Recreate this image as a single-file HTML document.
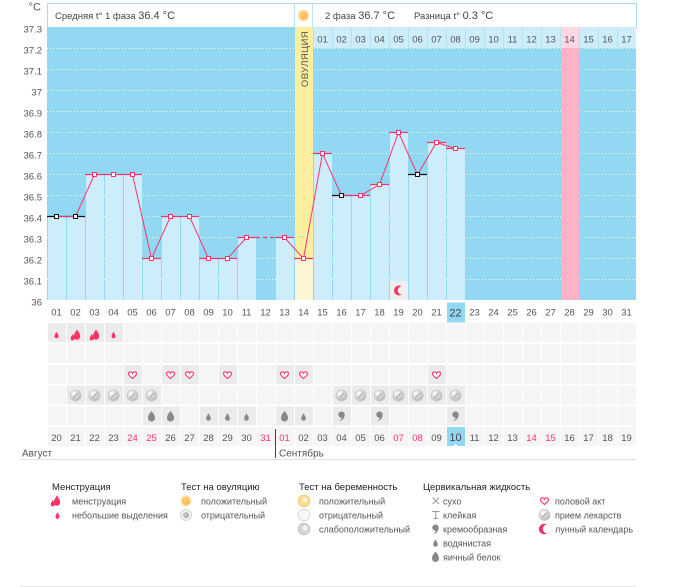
<!DOCTYPE html>
<html><head><meta charset="utf-8"><style>
html,body{margin:0;padding:0;background:#fff;}
svg{display:block;font-family:"Liberation Sans","DejaVu Sans",sans-serif;}
</style></head><body>
<svg width="675" height="587" viewBox="0 0 675 587" xmlns="http://www.w3.org/2000/svg">
<defs>
 <pattern id="cp" x="47" y="0" width="19" height="600" patternUnits="userSpaceOnUse"><rect x="1" y="0" width="18" height="600" fill="#f5f5f5"/></pattern>
 <pattern id="hp" x="47" y="0" width="19" height="600" patternUnits="userSpaceOnUse"><rect x="1" y="0" width="18" height="600" fill="#cdedfb"/></pattern>
 <radialGradient id="pillg" cx="0.35" cy="0.3" r="0.8"><stop offset="0" stop-color="#ffffff"/><stop offset="1" stop-color="#b0b0b0"/></radialGradient>
 <radialGradient id="sung" cx="0.4" cy="0.4" r="0.7"><stop offset="0" stop-color="#ffd27a"/><stop offset="1" stop-color="#f9ad35"/></radialGradient>
 <radialGradient id="grayg" cx="0.4" cy="0.4" r="0.7"><stop offset="0" stop-color="#dddddd"/><stop offset="1" stop-color="#8a8a8a"/></radialGradient>
 <path id="drop" d="M0,-4 C1,-2 2.5,-0.5 2.5,1.5 A2.5,2.5 0 0 1 -2.5,1.5 C-2.5,-0.5 -1,-2 0,-4Z"/>
 <path id="egg" d="M0,-5.5 C1.5,-3.5 3.5,-1.5 3.5,1.5 A3.5,3.5 0 0 1 -3.5,1.5 C-3.5,-1.5 -1.5,-3.5 0,-5.5Z" fill="#888"/>
 <use id="water" href="#drop" fill="#888" transform="scale(0.95)"/>
 <path id="cream" d="M-3.2,-1.5 A3.2,3.2 0 1 1 3.2,-1.2 C3.2,2 1,4.5 -2.5,5 C-0.5,3.5 0.2,2.5 0.2,1.7 A3.2,3.2 0 0 1 -3.2,-1.5Z" fill="#888"/>
 <g id="menb"><use href="#drop" fill="#ff3366" transform="translate(-2.8,2.2) scale(0.8)"/><use href="#drop" fill="#ff3366" transform="translate(1.5,-0.5) scale(1.3)"/></g>
 <use id="mens" href="#drop" fill="#ff3366" transform="scale(0.8)"/>
 <path id="heart" d="M0,3.5 C-1,2.5 -4,0.5 -4,-1.3 C-4,-3.5 -1,-4 0,-1.6 C1,-4 4,-3.5 4,-1.3 C4,0.5 1,2.5 0,3.5Z" fill="#fff" stroke="#ff3d7a" stroke-width="1.2" stroke-linejoin="round"/>
 <g id="pill"><circle r="5.5" fill="url(#pillg)" stroke="#c4c4c4" stroke-width="0.8"/><line x1="-2.6" y1="2.6" x2="2.6" y2="-2.6" stroke="#a5a5a5" stroke-width="1"/></g>
</defs>

<!-- y axis labels -->
<g font-size="9.5" fill="#555" text-anchor="end">
 <text x="41" y="10.5" font-size="11">°C</text>
 <text x="42" y="32.4">37.3</text>
 <text x="42" y="53.4">37.2</text>
 <text x="42" y="74.4">37.1</text>
 <text x="42" y="95.4">37</text>
 <text x="42" y="116.4">36.9</text>
 <text x="42" y="137.4">36.8</text>
 <text x="42" y="158.4">36.7</text>
 <text x="42" y="179.4">36.6</text>
 <text x="42" y="200.4">36.5</text>
 <text x="42" y="221.4">36.4</text>
 <text x="42" y="242.4">36.3</text>
 <text x="42" y="263.4">36.2</text>
 <text x="42" y="284.4">36.1</text>
 <text x="42" y="305.4">36</text>
</g>

<!-- header box -->
<rect x="47.5" y="3.5" width="589" height="24" fill="#fff" stroke="#a4dbf1"/>
<line x1="294.5" y1="3.5" x2="294.5" y2="27" stroke="#b8e4f5"/>
<line x1="312.5" y1="3.5" x2="312.5" y2="27" stroke="#b8e4f5"/>
<text x="55" y="19" font-size="9.5" fill="#444">Средняя t° 1 фаза <tspan font-size="11">36.4 °C</tspan></text>
<text x="325" y="19" font-size="9.5" fill="#444">2 фаза <tspan font-size="11">36.7 °C</tspan></text>
<text x="414" y="19" font-size="9.5" fill="#444">Разница t° <tspan font-size="11">0.3 °C</tspan></text>
<circle cx="303.5" cy="15.5" r="6" fill="#fde4ad"/>
<circle cx="303.5" cy="15.5" r="4" fill="url(#sung)"/>

<!-- plot background -->
<rect x="47" y="27" width="589" height="273" fill="#93d8f2"/>
<g stroke="#fff" stroke-width="1" stroke-dasharray="1,2" opacity="0.9">
 <line x1="47" y1="48.5" x2="636" y2="48.5"/>
 <line x1="47" y1="69.5" x2="636" y2="69.5"/>
 <line x1="47" y1="90.5" x2="636" y2="90.5"/>
 <line x1="47" y1="111.5" x2="636" y2="111.5"/>
 <line x1="47" y1="132.5" x2="636" y2="132.5"/>
 <line x1="47" y1="153.5" x2="636" y2="153.5"/>
 <line x1="47" y1="174.5" x2="636" y2="174.5"/>
 <line x1="47" y1="195.5" x2="636" y2="195.5"/>
 <line x1="47" y1="216.5" x2="636" y2="216.5"/>
 <line x1="47" y1="237.5" x2="636" y2="237.5"/>
 <line x1="47" y1="258.5" x2="636" y2="258.5"/>
 <line x1="47" y1="279.5" x2="636" y2="279.5"/>
</g>

<!-- bars -->
<g fill="#cdedfb">
 <rect x="48" y="216" width="18" height="84"/>
 <rect x="67" y="216" width="18" height="84"/>
 <rect x="86" y="174" width="18" height="126"/>
 <rect x="105" y="174" width="18" height="126"/>
 <rect x="124" y="174" width="18" height="126"/>
 <rect x="143" y="258" width="18" height="42"/>
 <rect x="162" y="216" width="18" height="84"/>
 <rect x="181" y="216" width="18" height="84"/>
 <rect x="200" y="258" width="18" height="42"/>
 <rect x="219" y="258" width="18" height="42"/>
 <rect x="238" y="237" width="18" height="63"/>
 <rect x="276" y="237" width="18" height="63"/>
 <rect x="314" y="153" width="18" height="147"/>
 <rect x="333" y="195" width="18" height="105"/>
 <rect x="352" y="195" width="18" height="105"/>
 <rect x="371" y="184" width="18" height="116"/>
 <rect x="390" y="132" width="18" height="168"/>
 <rect x="409" y="174" width="18" height="126"/>
 <rect x="428" y="142" width="18" height="158"/>
 <rect x="447" y="148" width="18" height="152"/>
</g>
<!-- ovulation column -->
<rect x="295" y="27" width="18" height="231" fill="#fcee9e"/>
<rect x="295" y="258" width="18" height="42" fill="#fdf6d2"/>
<text transform="translate(308,59) rotate(-90)" text-anchor="middle" font-size="9.5" fill="#555" letter-spacing="0.4">ОВУЛЯЦИЯ</text>
<!-- pink column -->
<rect x="561" y="48" width="18" height="252" fill="#fdb2c6"/>

<!-- phase 2 day header -->
<rect x="313" y="27" width="323" height="21" fill="#b3e4f6"/>
<rect x="313" y="27" width="323" height="21" fill="url(#hp)"/>
<rect x="561" y="27" width="18" height="21" fill="#fdd7e2"/>
<g font-size="9.5" fill="#555" text-anchor="middle">
 <text x="322.5" y="42.7">01</text><text x="341.5" y="42.7">02</text><text x="360.5" y="42.7">03</text><text x="379.5" y="42.7">04</text><text x="398.5" y="42.7">05</text><text x="417.5" y="42.7">06</text><text x="436.5" y="42.7">07</text><text x="455.5" y="42.7">08</text><text x="474.5" y="42.7">09</text><text x="493.5" y="42.7">10</text><text x="512.5" y="42.7">11</text><text x="531.5" y="42.7">12</text><text x="550.5" y="42.7">13</text><text x="569.5" y="42.7">14</text><text x="588.5" y="42.7">15</text><text x="607.5" y="42.7">16</text><text x="626.5" y="42.7">17</text>
</g>

<!-- bar top lines -->
<g stroke-width="1.2">
 <line x1="47" y1="216.5" x2="85" y2="216.5" stroke="#111"/>
 <g stroke="#f7356c">
  <line x1="85" y1="174.5" x2="142" y2="174.5"/>
  <line x1="142" y1="258.5" x2="161" y2="258.5"/>
  <line x1="161" y1="216.5" x2="199" y2="216.5"/>
  <line x1="199" y1="258.5" x2="237" y2="258.5"/>
  <line x1="237" y1="237.5" x2="256" y2="237.5"/>
  <line x1="256" y1="237.5" x2="275" y2="237.5" stroke-dasharray="4,3"/>
  <line x1="275" y1="237.5" x2="294" y2="237.5"/>
  <line x1="294" y1="258.5" x2="313" y2="258.5"/>
  <line x1="313" y1="153.5" x2="332" y2="153.5"/>
  <line x1="351" y1="195.5" x2="370" y2="195.5"/>
  <line x1="370" y1="184.5" x2="389" y2="184.5"/>
  <line x1="389" y1="132.5" x2="408" y2="132.5"/>
  <line x1="427" y1="142.5" x2="446" y2="142.5"/>
  <line x1="446" y1="148.5" x2="465" y2="148.5"/>
 </g>
 <line x1="332" y1="195.5" x2="351" y2="195.5" stroke="#111"/>
 <line x1="408" y1="174.5" x2="427" y2="174.5" stroke="#111"/>
</g>
<!-- connecting line -->
<polyline fill="none" stroke="#f7356c" stroke-width="1" points="56.5,216.5 75.5,216.5 94.5,174.5 113.5,174.5 132.5,174.5 151.5,258.5 170.5,216.5 189.5,216.5 208.5,258.5 227.5,258.5 246.5,237.5"/>
<polyline fill="none" stroke="#f7356c" stroke-width="1" points="284.5,237.5 303.5,258.5 322.5,153.5 341.5,195.5 360.5,195.5 379.5,184.5 398.5,132.5 417.5,174.5 436.5,142.5 455.5,148.5"/>
<!-- markers -->
<g fill="#fff" stroke="#f7356c" stroke-width="1">
 <rect x="92.5" y="172.5" width="4" height="4"/>
 <rect x="111.5" y="172.5" width="4" height="4"/>
 <rect x="130.5" y="172.5" width="4" height="4"/>
 <rect x="149.5" y="256.5" width="4" height="4"/>
 <rect x="168.5" y="214.5" width="4" height="4"/>
 <rect x="187.5" y="214.5" width="4" height="4"/>
 <rect x="206.5" y="256.5" width="4" height="4"/>
 <rect x="225.5" y="256.5" width="4" height="4"/>
 <rect x="244.5" y="235.5" width="4" height="4"/>
 <rect x="282.5" y="235.5" width="4" height="4"/>
 <rect x="301.5" y="256.5" width="4" height="4"/>
 <rect x="320.5" y="151.5" width="4" height="4"/>
 <rect x="358.5" y="193.5" width="4" height="4"/>
 <rect x="377.5" y="182.5" width="4" height="4"/>
 <rect x="396.5" y="130.5" width="4" height="4"/>
 <rect x="434.5" y="140.5" width="4" height="4"/>
 <rect x="453.5" y="146.5" width="4" height="4"/>
</g>
<g fill="#fff" stroke="#111" stroke-width="1">
 <rect x="54.5" y="214.5" width="4" height="4"/>
 <rect x="73.5" y="214.5" width="4" height="4"/>
 <rect x="339.5" y="193.5" width="4" height="4"/>
 <rect x="415.5" y="172.5" width="4" height="4"/>
</g>
<!-- moon in chart -->
<rect x="390" y="281" width="18" height="19" fill="#efefef"/>
<circle cx="399" cy="290.5" r="5" fill="#f2356c"/>
<circle cx="401.8" cy="290.5" r="4.1" fill="#efefef"/>

<!-- x labels -->
<rect x="447" y="302.5" width="18" height="20" fill="#93d8f2"/>
<g font-size="9.5" fill="#555" text-anchor="middle">
 <text x="56.5" y="315.7">01</text><text x="75.5" y="315.7">02</text><text x="94.5" y="315.7">03</text><text x="113.5" y="315.7">04</text><text x="132.5" y="315.7">05</text><text x="151.5" y="315.7">06</text><text x="170.5" y="315.7">07</text><text x="189.5" y="315.7">08</text><text x="208.5" y="315.7">09</text><text x="227.5" y="315.7">10</text><text x="246.5" y="315.7">11</text><text x="265.5" y="315.7">12</text><text x="284.5" y="315.7">13</text><text x="303.5" y="315.7">14</text><text x="322.5" y="315.7">15</text><text x="341.5" y="315.7">16</text><text x="360.5" y="315.7">17</text><text x="379.5" y="315.7">18</text><text x="398.5" y="315.7">19</text><text x="417.5" y="315.7">20</text><text x="436.5" y="315.7">21</text><text x="455.5" y="316.5" font-size="11" fill="#444">22</text><text x="474.5" y="315.7">23</text><text x="493.5" y="315.7">24</text><text x="512.5" y="315.7">25</text><text x="531.5" y="315.7">26</text><text x="550.5" y="315.7">27</text><text x="569.5" y="315.7">28</text><text x="588.5" y="315.7">29</text><text x="607.5" y="315.7">30</text><text x="626.5" y="315.7">31</text>
</g>

<!-- icon rows -->
<rect x="47" y="323" width="589" height="19" fill="url(#cp)"/>
<rect x="47" y="344" width="589" height="19" fill="url(#cp)"/>
<rect x="47" y="365" width="589" height="19" fill="url(#cp)"/>
<rect x="47" y="385.5" width="589" height="19" fill="url(#cp)"/>
<rect x="47" y="406.5" width="589" height="19" fill="url(#cp)"/>
<rect x="47" y="427" width="589" height="19" fill="url(#cp)"/>
<g fill="#ebebeb">
 <rect x="48" y="323" width="18" height="19"/><rect x="67" y="323" width="18" height="19"/><rect x="86" y="323" width="18" height="19"/><rect x="105" y="323" width="18" height="19"/>
 <rect x="124" y="365" width="18" height="19"/><rect x="162" y="365" width="18" height="19"/><rect x="181" y="365" width="18" height="19"/><rect x="219" y="365" width="18" height="19"/><rect x="276" y="365" width="18" height="19"/><rect x="295" y="365" width="18" height="19"/><rect x="428" y="365" width="18" height="19"/>
 <rect x="67" y="385.5" width="18" height="19"/><rect x="86" y="385.5" width="18" height="19"/><rect x="105" y="385.5" width="18" height="19"/><rect x="124" y="385.5" width="18" height="19"/><rect x="143" y="385.5" width="18" height="19"/><rect x="333" y="385.5" width="18" height="19"/><rect x="352" y="385.5" width="18" height="19"/><rect x="371" y="385.5" width="18" height="19"/><rect x="390" y="385.5" width="18" height="19"/><rect x="409" y="385.5" width="18" height="19"/><rect x="428" y="385.5" width="18" height="19"/><rect x="447" y="385.5" width="18" height="19"/>
 <rect x="143" y="406.5" width="18" height="19"/><rect x="162" y="406.5" width="18" height="19"/><rect x="200" y="406.5" width="18" height="19"/><rect x="219" y="406.5" width="18" height="19"/><rect x="238" y="406.5" width="18" height="19"/><rect x="276" y="406.5" width="18" height="19"/><rect x="295" y="406.5" width="18" height="19"/><rect x="333" y="406.5" width="18" height="19"/><rect x="371" y="406.5" width="18" height="19"/><rect x="447" y="406.5" width="18" height="19"/>
</g>
<!-- row icons -->
<use href="#mens" transform="translate(56.5,335)"/>
<use href="#menb" transform="translate(75.5,335)"/>
<use href="#menb" transform="translate(94.5,335)"/>
<use href="#mens" transform="translate(113.5,335)"/>

<use href="#heart" transform="translate(132.5,375)"/>
<use href="#heart" transform="translate(170.5,375)"/>
<use href="#heart" transform="translate(189.5,375)"/>
<use href="#heart" transform="translate(227.5,375)"/>
<use href="#heart" transform="translate(284.5,375)"/>
<use href="#heart" transform="translate(303.5,375)"/>
<use href="#heart" transform="translate(436.5,375)"/>

<use href="#pill" transform="translate(75.5,395.5)"/>
<use href="#pill" transform="translate(94.5,395.5)"/>
<use href="#pill" transform="translate(113.5,395.5)"/>
<use href="#pill" transform="translate(132.5,395.5)"/>
<use href="#pill" transform="translate(151.5,395.5)"/>
<use href="#pill" transform="translate(341.5,395.5)"/>
<use href="#pill" transform="translate(360.5,395.5)"/>
<use href="#pill" transform="translate(379.5,395.5)"/>
<use href="#pill" transform="translate(398.5,395.5)"/>
<use href="#pill" transform="translate(417.5,395.5)"/>
<use href="#pill" transform="translate(436.5,395.5)"/>
<use href="#pill" transform="translate(455.5,395.5)"/>

<use href="#egg" transform="translate(151.5,416.5)"/>
<use href="#egg" transform="translate(170.5,416.5)"/>
<use href="#water" transform="translate(208.5,417)"/>
<use href="#water" transform="translate(227.5,417)"/>
<use href="#water" transform="translate(246.5,417)"/>
<use href="#egg" transform="translate(284.5,416.5)"/>
<use href="#water" transform="translate(303.5,417)"/>
<use href="#cream" transform="translate(341.5,416)"/>
<use href="#cream" transform="translate(379.5,416)"/>
<use href="#cream" transform="translate(455.5,416)"/>

<!-- date row -->
<rect x="447" y="427" width="18" height="19" fill="#93d8f2"/>
<path d="M453.5,446 L455.5,443.5 L457.5,446Z" fill="#fff"/>
<g font-size="9.5" fill="#555" text-anchor="middle">
 <text x="56.5" y="441">20</text><text x="75.5" y="441">21</text><text x="94.5" y="441">22</text><text x="113.5" y="441">23</text><text x="132.5" y="441" fill="#ff3366">24</text><text x="151.5" y="441" fill="#ff3366">25</text><text x="170.5" y="441">26</text><text x="189.5" y="441">27</text><text x="208.5" y="441">28</text><text x="227.5" y="441">29</text><text x="246.5" y="441">30</text><text x="265.5" y="441" fill="#ff3366">31</text><text x="284.5" y="441" fill="#ff3366">01</text><text x="303.5" y="441">02</text><text x="322.5" y="441">03</text><text x="341.5" y="441">04</text><text x="360.5" y="441">05</text><text x="379.5" y="441">06</text><text x="398.5" y="441" fill="#ff3366">07</text><text x="417.5" y="441" fill="#ff3366">08</text><text x="436.5" y="441">09</text><text x="455.5" y="441" font-size="11" fill="#444">10</text><text x="474.5" y="441">11</text><text x="493.5" y="441">12</text><text x="512.5" y="441">13</text><text x="531.5" y="441" fill="#ff3366">14</text><text x="550.5" y="441" fill="#ff3366">15</text><text x="569.5" y="441">16</text><text x="588.5" y="441">17</text><text x="607.5" y="441">18</text><text x="626.5" y="441">19</text>
</g>
<line x1="275.5" y1="429" x2="275.5" y2="458" stroke="#444" stroke-width="1"/>
<text x="22" y="456.5" font-size="10" fill="#555">Август</text>
<text x="279" y="456.5" font-size="10" fill="#555">Сентябрь</text>
<line x1="20" y1="459.5" x2="636" y2="459.5" stroke="#e0e0e0" stroke-width="1"/>

<!-- legend -->
<g font-size="9.5" fill="#222">
 <text x="52" y="490">Менструация</text>
 <text x="181" y="490">Тест на овуляцию</text>
 <text x="299" y="490">Тест на беременность</text>
 <text x="423" y="490">Цервикальная жидкость</text>
</g>
<g font-size="9" fill="#555">
 <text x="72" y="504.5">менструация</text>
 <text x="72" y="518.5">небольшие выделения</text>
 <text x="201" y="504.5">положительный</text>
 <text x="201" y="518.5">отрицательный</text>
 <text x="319" y="504.5">положительный</text>
 <text x="319" y="518.5">отрицательный</text>
 <text x="319" y="532.5">слабоположительный</text>
 <text x="443" y="504.5">сухо</text>
 <text x="443" y="518.5">клейкая</text>
 <text x="443" y="532.5">кремообразная</text>
 <text x="443" y="546.5">водянистая</text>
 <text x="443" y="560.5">яичный белок</text>
 <text x="555" y="504.5">половой акт</text>
 <text x="555" y="518.5">прием лекарств</text>
 <text x="555" y="532.5">лунный календарь</text>
</g>
<use href="#menb" transform="translate(55.5,501)"/>
<use href="#mens" transform="translate(57.5,515.5)"/>
<circle cx="186" cy="501" r="5.5" fill="#fde0a3"/>
<circle cx="186" cy="501" r="3.8" fill="url(#sung)"/>
<circle cx="186" cy="515" r="5.5" fill="#f0f0f0" stroke="#d0d0d0" stroke-width="0.8"/>
<circle cx="186" cy="515" r="2.8" fill="url(#grayg)"/>
<circle cx="304" cy="501" r="5.8" fill="#fcdc94" stroke="#f5c462" stroke-width="0.8"/>
<circle cx="305" cy="500" r="2.5" fill="#fff3d6"/>
<circle cx="304" cy="515" r="5.8" fill="#f8f8f8" stroke="#cfcfcf" stroke-width="0.8"/>
<circle cx="304" cy="529" r="5.8" fill="#d6d6d6" stroke="#bdbdbd" stroke-width="0.8"/>
<circle cx="305" cy="528" r="2.5" fill="#f3f3f3"/>
<g stroke="#999" stroke-width="1">
 <line x1="432.5" y1="497.5" x2="439" y2="504"/><line x1="439" y1="497.5" x2="432.5" y2="504"/>
 <line x1="432" y1="511.5" x2="439.5" y2="511.5"/><line x1="435.75" y1="511.5" x2="435.75" y2="518.5"/><line x1="433.5" y1="518.5" x2="438" y2="518.5"/>
</g>
<use href="#cream" transform="translate(435.5,529)"/>
<use href="#water" transform="translate(435.5,543)"/>
<use href="#egg" transform="translate(435.5,557)"/>
<use href="#heart" transform="translate(544.5,501)"/>
<use href="#pill" transform="translate(544.5,515)"/>
<circle cx="544" cy="529" r="5.2" fill="#f2356c"/>
<circle cx="547" cy="529" r="4.2" fill="#fff"/>
<line x1="20" y1="586.5" x2="636" y2="586.5" stroke="#e6e6e6" stroke-width="1"/>
</svg>
</body></html>
